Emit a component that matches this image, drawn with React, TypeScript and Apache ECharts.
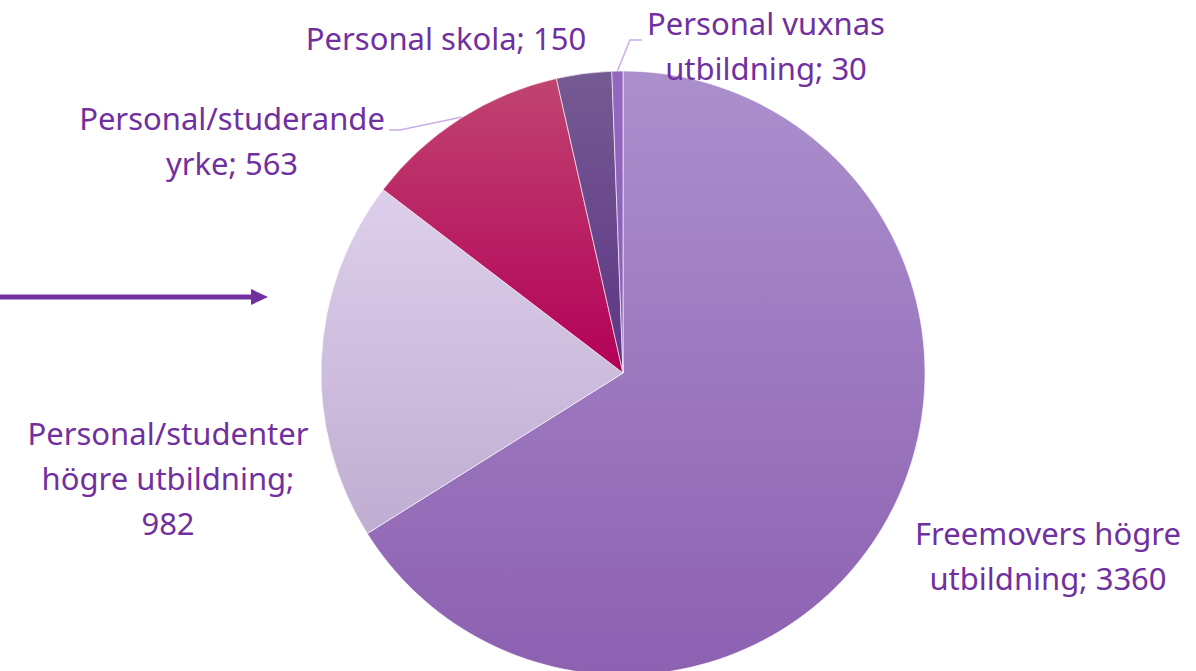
import React, { useEffect, useRef } from "react";
import * as echarts from "echarts";

const categories = [
  "Freemovers högre\nutbildning",
  "Personal/studenter\nhögre utbildning",
  "Personal/studerande\nyrke",
  "Personal skola",
  "Personal vuxnas\nutbildning",
];
const values = [3360, 982, 563, 150, 30];
const separators = ["; ", ";\n", "; ", "; ", "; "];

const gradients: [string, string][] = [
  ["#ab90cd", "#8d60b1"],
  ["#ddcfeb", "#c0add2"],
  ["#c04470", "#b30058"],
  ["#765a92", "#5c3586"],
  ["#9468c0", "#8a5fb6"],
];

const labelPos: { x: number; y: number; line?: number[][] }[] = [
  { x: 1048, y: 555 },
  { x: 168, y: 478 },
  { x: 232, y: 140, line: [[462, 117], [400, 130], [389, 130]] },
  { x: 446, y: 38 },
  { x: 766, y: 45, line: [[617, 72], [630, 40], [642, 40]] },
];

export default function App() {
  const ref = useRef<HTMLDivElement>(null);
  useEffect(() => {
    if (!ref.current) return;
    const chart = echarts.init(ref.current, null, { renderer: "svg" });
    const textColor = "#7030a0";
    chart.setOption({
      animation: false,
      backgroundColor: "#ffffff",
      graphic: [
        {
          type: "line",
          shape: { x1: 0, y1: 297, x2: 255, y2: 297 },
          style: { stroke: "#7030a0", lineWidth: 5 },
        },
        {
          type: "polygon",
          shape: { points: [[251, 289], [268, 297], [251, 305]] },
          style: { fill: "#7030a0" },
        },
      ],
      series: [
        {
          type: "pie",
          center: [623, 373],
          radius: 302,
          startAngle: 90,
          clockwise: true,
          avoidLabelOverlap: false,
          itemStyle: { borderColor: "rgba(255,255,255,0.6)", borderWidth: 1 },
          label: {
            show: true,
            position: "outside",
            color: textColor,
            fontFamily: "Noto Sans",
            fontSize: 31,
            lineHeight: 45,
            align: "center",
            formatter: (p: any) => `${p.name}${separators[p.dataIndex]}${p.value}`,
          },
          labelLine: { show: false, lineStyle: { color: "#c9acea", width: 1.5 } },
          labelLayout: (p: any) => {
            const lp = labelPos[p.dataIndex];
            const r: any = { x: lp.x, y: lp.y, align: "center", verticalAlign: "middle" };
            if (lp.line) r.labelLinePoints = lp.line;
            return r;
          },
          data: categories.map((name, i) => ({
            name,
            value: values[i],
            labelLine: { show: !!labelPos[i].line },
            itemStyle: {
              color: new echarts.graphic.LinearGradient(0, 0, 0, 1, [
                { offset: 0, color: gradients[i][0] },
                { offset: 1, color: gradients[i][1] },
              ]),
            },
          })),
        },
      ],
    });
    return () => chart.dispose();
  }, []);
  return (
    <div
      ref={ref}
      style={{ position: "absolute", left: 0, top: 0, width: 1196, height: 671 }}
    />
  );
}
